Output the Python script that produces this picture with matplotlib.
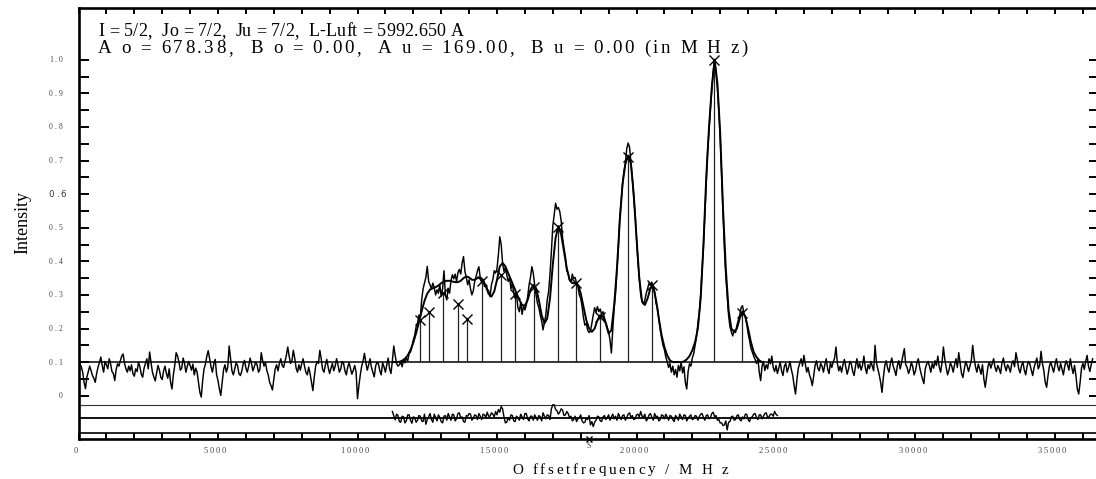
import numpy as np
import matplotlib
matplotlib.use("Agg")
import matplotlib.pyplot as plt
from matplotlib.font_manager import FontProperties, findfont, get_font

W, H, DPI = 1096, 479, 100

# ---------------------------------------------------------------- data
# measured spectrum (intensity x 1000), sampled every 50 MHz
trace_step = 50.0
trace_left_start = 0.0
trace_left = [
    112, 95, 86, 70, 40, 21, 55, 72, 88, 75, 60, 52, 40, 66, 85, 98, 115, 90, 70, 102,
    92, 80, 110, 95, 72, 66, 45, 78, 95, 88, 104, 118, 124, 96, 80, 70, 88, 74, 92, 66,
    58, 80, 72, 100, 86, 64, 55, 82, 96, 110, 80, 130, 98, 70, 56, 44, 68, 90, 76, 55,
    48, 74, 88, 66, 52, 80, 40, 20, 62, 90, 128, 118, 100, 76, 82, 112, 96, 70, 88, 102,
    90, 76, 94, 62, 82, 70, 40, 10, -4, 45, 80, 94, 118, 134, 110, 86, 70, 95, 108, 62,
    45, 20, 1, 40, 78, 92, 70, 85, 148, 110, 74, 62, 80, 98, 90, 66, 60, 72, 94, 105,
    82, 70, 88, 112, 96, 74, 86, 100, 92, 70, 78, 128, 104, 88, 100, 75, 62, 40, 30, 17,
    48, 80, 92, 74, 96, 110, 90, 84, 102, 120, 145, 118, 96, 104, 135, 112, 82, 70, 92, 76,
    95, 110, 88, 70, 62, 85, 66, 40, 15, 55, 88, 102, 96, 135, 110, 78, 70, 92, 108, 84,
    66, 82, 96, 74, 88, 110, 92, 70, 80, 102, 96, 74, 62, 86, 98, 80, 64, 76, 90, 70,
    -9, 30, 62, 88, 104, 126, 98, 76, 92, 110, 84, 70, 56, 88, 100, 95, 74, 62, 98, 86,
    70, 92, 112, 80, 66, 104, 148, 120, 96, 88,
]
trace_mid_start = 11500.0
trace_mid = [
    92, 100, 86, 108, 98, 112, 104, 126, 130, 145,
    166, 180, 205, 215, 240, 232, 285, 318, 335, 352, 385, 340, 330, 318, 335, 322, 300, 315, 305, 330,
    296, 318, 372, 300, 285, 320, 305, 342, 360, 348, 362, 340, 366, 376, 362, 395, 414, 370, 352, 330,
    345, 318, 300, 312, 340, 355, 372, 384, 350, 336, 345, 325, 330, 318, 312, 295, 330, 345, 372, 365,
    378, 420, 473, 450, 395, 370, 382, 360, 340, 352, 318, 335, 305, 290, 300, 262, 250, 278, 242, 268,
    255, 270, 295, 330, 352, 384, 365, 330, 300, 275, 262, 240, 222, 196, 218, 240, 285, 310, 362, 430,
    505, 540, 573, 555, 560, 548, 520, 470, 440, 415, 372, 365, 345, 338, 362, 348, 352, 335, 325, 300,
    290, 265, 232, 210, 215, 195, 188, 192, 215, 240, 262, 248, 265, 250, 258, 242, 250, 232, 218, 205,
    190, 166, 127, 198, 262, 305, 375, 440, 530, 580, 630, 668, 690, 735, 752, 740, 695, 650, 590, 543,
    470, 400, 350, 300, 280, 272, 285, 305, 320, 335, 328, 338, 320, 310, 275, 262, 228, 196, 172, 150,
    137, 115, 102, 84, 96, 70, 88, 62, 78, 55, 90, 74, 100, 68, 86, 40, 20, 72, 95, 88,
    112, 125, 150, 175, 215, 245, 300, 370, 445, 540, 640, 730, 790, 855, 910, 965, 1000, 962, 915, 850,
    765, 660, 545, 440, 355, 300, 240, 205, 190, 178, 195, 188, 210, 225, 240, 262, 268, 245, 236, 215,
    186, 165, 142, 130, 118, 108, 96, 110, 70, 45, 88, 102, 75, 92, 80, 110, 95, 118, 84, 72,
]
trace_right_start = 25000.0
trace_right = [
    90, 66, 82, 100, 74, 60, 88, 96, 70, 84, 102, 78, 60, 30, 5, 48, 82, 96, 110, 88,
    120, 95, 70, 84, 62, 50, 30, 58, 90, 104, 82, 74, 96, 88, 70, 92, 110, 80, 66, 98,
    84, 100, 112, 145, 96, 74, 88, 70, 92, 108, 86, 64, 80, 102, 94, 72, 60, 88, 110, 82,
    96, 76, 90, 118, 84, 66, 92, 80, 102, 88, 74, 150, 98, 80, 62, 40, 10, 56, 90, 104,
    82, 70, 96, 112, 88, 76, 60, 90, 104, 80, 98, 120, 140, 92, 84, 66, 78, 100, 86, 62,
    74, 98, 110, 84, 66, 50, 36, 80, 94, 102, 88, 70, 96, 82, 104, 90, 118, 86, 70, 98,
    145, 108, 84, 62, 76, 98, 88, 70, 92, 110, 84, 128, 96, 66, 54, 80, 102, 90, 72, 88,
    104, 150, 112, 86, 70, 94, 80, 64, 92, 50, 25, 58, 88, 100, 82, 96, 110, 84, 72, 90,
    80, 66, 98, 112, 88, 74, 92, 84, 70, 96, 104, 86, 128, 106, 80, 68, 90, 100, 76, 62,
    88, 102, 94, 76, 60, 84, 98, 112, 80, 90, 132, 96, 74, 40, 25, 60, 88, 100, 84, 70,
    92, 110, 86, 74, 96, 80, 62, 88, 104, 92, 76, 110, 84, 66, 90, 60, 20, 5, 40, 82,
    96, 78, 102, 120, 88, 72, 94, 110,
]

# fitted profile (intensity x 1000), every 100 MHz
fit_start, fit_step = 11300.0, 100.0
fit_vals = [
    100, 100, 101, 104, 110, 120, 136, 158, 186, 218,
    252, 282, 304, 316, 320, 323, 328, 335, 340, 342,
    342, 340, 338, 338, 342, 350, 355, 352, 345, 345,
    350, 352, 345, 325, 303, 295, 310, 345, 385, 395,
    385, 365, 345, 325, 305, 285, 270, 268, 285, 315,
    330, 320, 285, 240, 215, 230, 290, 390, 470, 505,
    480, 430, 380, 345, 335, 335, 330, 305, 265, 225,
    200, 190, 200, 225, 240, 235, 215, 185, 195, 270,
    380, 520, 630, 690, 715, 690, 600, 470, 350, 280,
    270, 290, 320, 325, 285, 230, 180, 145, 120, 105,
    100, 100, 100, 100, 102, 108, 118, 135, 160, 200,
    290, 450, 650, 800, 920, 1000, 930, 780, 560, 380,
    255, 200, 190, 200, 230, 250, 235, 200, 160, 130,
    115, 105, 100,
]

# residual (data - fit, x 1000), every 50 MHz
resid_start, resid_step = 11250.0, 50.0
resid_vals = [
    20, 8, -5, 12, 8, -10, -12, 6, 4, -14, -8, 10, 10, -6, -15, 4, 2, -12, -6, 8,
    6, -8, -10, 12, -18, -4, 4, 14, -4, -12, 12, 2, -8, 10, 2, -10, -14, 6, 8, -6,
    14, 4, -6, 12, 10, -8, -2, 14, 16, 0, 4, -10, -12, 8, 6, 14, 12, -6, 0, 10,
    8, -4, 14, 6, -4, 12, 10, 2, 18, 6, 6, 16, 12, 4, 20, 10, 26, 18, 35, 28,
    4, -14, -12, 2, -6, 10, 8, -8, -10, 6, 2, -6, 12, 4, -4, 14, 14, -2, -8, 6,
    6, -6, 10, 2, -6, 8, 4, -8, 16, 6, -2, 10, 8, -4, 28, 40, 40, 26, 22, 12,
    18, 28, 24, 8, 10, 20, 14, 2, 6, -8, -4, 6, -10, -2, 2, 10, -8, -14, -12, 0,
    -4, 8, -20, -10, -25, -12, -6, 6, 4, -8, -10, 4, 8, -4, 2, 10, -6, 4, 12, -2,
    6, -6, 14, 4, -4, 8, 10, -6, 2, 12, 16, 2, 8, -4, -2, 10, 12, 4, 20, 6,
    4, 12, -8, -2, 10, 14, 2, -6, 14, 4, 6, -8, -4, 10, 8, -2, 12, 4, -6, 8,
    6, -4, -10, 8, 2, -6, 12, 4, -4, 10, 8, -8, 0, 6, 10, -4, -2, 8, 6, -6,
    4, 12, 14, 2, -6, 8, 10, -2, 2, 14, 18, 4, 8, -6, -4, -14, -14, -22, -20, -8,
    -35, -12, -10, 4, 6, -6, -4, 8, 10, -4, -8, 4, -2, 12, 12, -4, -10, 2, 4, 12,
    14, 2, -4, 10, 10, -2, 6, 14, 16, 2, 4, 12, 12, 6, 20, 12, 8,
]

# hyperfine components: position (MHz) and intensity
stick_freq = [12250, 12580, 13080, 13600, 13940, 14460, 15140, 15650,
              16310, 17170, 17840, 18700, 19710, 20550, 22790, 23780]
stick_int = [0.225, 0.248, 0.305, 0.273, 0.227, 0.34, 0.359, 0.303,
             0.323, 0.503, 0.334, 0.235, 0.711, 0.329, 1.0, 0.245]
stick_base = 0.1
s_mark_freq = 18300

x_ticks = [0, 5000, 10000, 15000, 20000, 25000, 30000, 35000]
x_tick_labels = ["0", "5000", "10000", "15000", "20000", "25000", "30000", "35000"]
y_ticks = [0.0, 0.1, 0.2, 0.3, 0.4, 0.5, 0.6, 0.7, 0.8, 0.9, 1.0]
y_tick_labels = ["0", "0.1", "0.2", "0.3", "0.4", "0.5", "0.6", "0.7", "0.8", "0.9", "1.0"]

header_1 = "I = 5/2,  Jo = 7/2,  Ju = 7/2,  L-Luft = 5992.650 A"
header_2 = "A o = 678.38,  B o = 0.00,  A u = 169.00,  B u = 0.00 (in M H z)"
x_title = "O ffsetfrequency / M H z"
y_title = "Intensity"

# levels of the residual panel
resid_top = -0.029
resid_zero = -0.067
strip_top = -0.110

# ---------------------------------------------------------------- figure
fig = plt.figure(figsize=(W / DPI, H / DPI), dpi=DPI)
fig.patch.set_facecolor("white")

left_px, right_px, top_px, bottom_px = 78.5, 1096.0, 8.0, 438.7
ax = fig.add_axes([left_px / W, (H - bottom_px) / H,
                   (right_px - left_px) / W, (bottom_px - top_px) / H])
ax.set_xlim(0, (right_px - left_px) / 27.9 * 1000)
ax.set_ylim(-0.128, 1.154)

# right-hand tick marks on a twin axis (shorter than the left ones)
ax_r = ax.twinx()
ax_r.set_ylim(ax.get_ylim())
ax_r.set_yticks(np.arange(0, 1.0001, 0.05))
ax_r.tick_params(axis="y", direction="in", length=5, width=1.4,
                 right=True, labelright=False, color="black")
for sp in ax_r.spines.values():
    sp.set_visible(False)

for side in ("left", "top", "bottom"):
    ax.spines[side].set_linewidth(1.9)
    ax.spines[side].set_color("black")
ax.spines["right"].set_visible(False)

ax.set_xticks(np.arange(0, 36001, 1000))
ax.set_yticks(np.arange(0, 1.0001, 0.05))
ax.tick_params(axis="x", direction="in", length=4.4, width=1.4, top=True,
               bottom=True, labelbottom=False, labeltop=False, color="black")
ax.tick_params(axis="y", direction="in", length=7.2, width=1.4, left=True,
               right=False, labelleft=False, color="black")

# reference levels
ax.axhline(stick_base, color="black", lw=1.1, zorder=2)
ax.axhline(resid_top, color="#333333", lw=0.8, zorder=2)
ax.axhline(resid_zero, color="black", lw=1.3, zorder=2)
ax.axhline(strip_top, color="black", lw=1.2, zorder=2)

# measured spectrum, drawn as one continuous line
trace_f = np.concatenate([
    trace_left_start + trace_step * np.arange(len(trace_left)),
    trace_mid_start + trace_step * np.arange(len(trace_mid)),
    trace_right_start + trace_step * np.arange(len(trace_right)),
])
trace_y = np.concatenate([trace_left, trace_mid, trace_right]) / 1000.0
ax.plot(trace_f, trace_y, color="black", lw=1.05, zorder=3)

# fit
fit_f = fit_start + fit_step * np.arange(len(fit_vals))
ax.plot(fit_f, np.asarray(fit_vals) / 1000.0, color="black", lw=1.4, zorder=4)

# stick spectrum
ax.vlines(stick_freq, stick_base, stick_int, color="#222222", lw=0.9, zorder=2)
ax.plot(stick_freq, stick_int, "x", color="black", ms=7, mew=1.0, zorder=5)

# residual
res_f = resid_start + resid_step * np.arange(len(resid_vals))
ax.plot(res_f, resid_zero + np.asarray(resid_vals) / 1000.0, color="black", lw=1.0, zorder=3)

# centre-of-gravity mark on the frequency axis
ax.plot([s_mark_freq], [ax.get_ylim()[0]], "x", color="black", ms=5, mew=1.0,
        clip_on=False, zorder=6)


# ---------------------------------------------------------------- text
def spaced_text(s, x, y, size, family, track=0.0, width=None, color="black", ha="left"):
    """Draw s glyph by glyph with letter spacing; x, y are display pixels (y = baseline)."""
    fp = FontProperties(family=family, size=size)
    font = get_font(findfont(fp))
    font.set_size(size, DPI)
    adv = [font.load_char(ord(c)).linearHoriAdvance / 65536.0 for c in s]
    if width is not None and len(s) > 1:
        track = (width - sum(adv)) / (len(s) - 1)
    total = sum(adv) + track * (len(s) - 1)
    if ha == "center":
        x -= total / 2.0
    elif ha == "right":
        x -= total
    for c, a in zip(s, adv):
        if c != " ":
            fig.text(x / W, y / H, c, fontproperties=fp, color=color,
                     ha="left", va="baseline")
        x += a + track


serif = "Liberation Serif"

spaced_text(header_1, 98.5, H - 36.0, 13.0, serif, width=365)
spaced_text(header_2, 97.5, H - 53.3, 13.6, serif, width=650)
spaced_text(x_title, 620, H - 473.5, 10.8, serif, width=216, ha="center")

fig.text(22.5 / W, (H - 222.5) / H, y_title, rotation=90, ha="center", va="center",
         family=serif, fontsize=13, color="black")

for v, lab in zip(x_ticks, x_tick_labels):
    px = ax.transData.transform((v, 0))[0]
    spaced_text(lab, px - 3.0, H - 452.8, 6.0, serif, track=1.9, color="#444444", ha="center")

for v, lab in zip(y_ticks, y_tick_labels):
    py = ax.transData.transform((0, v))[1]
    if lab == "0.6":
        spaced_text(lab, 66.0, py - 3.0, 6.2, "DejaVu Sans", track=1.8,
                    color="#333333", ha="right")
    else:
        spaced_text(lab, 62.5, py - 2.4, 5.5, serif, track=1.9,
                    color="#444444", ha="right")

sx = ax.transData.transform((s_mark_freq, 0))[0]
spaced_text("S", sx, H - 448.5, 5.5, serif, color="#444444", ha="center")

fig.savefig("out.png", dpi=DPI)
